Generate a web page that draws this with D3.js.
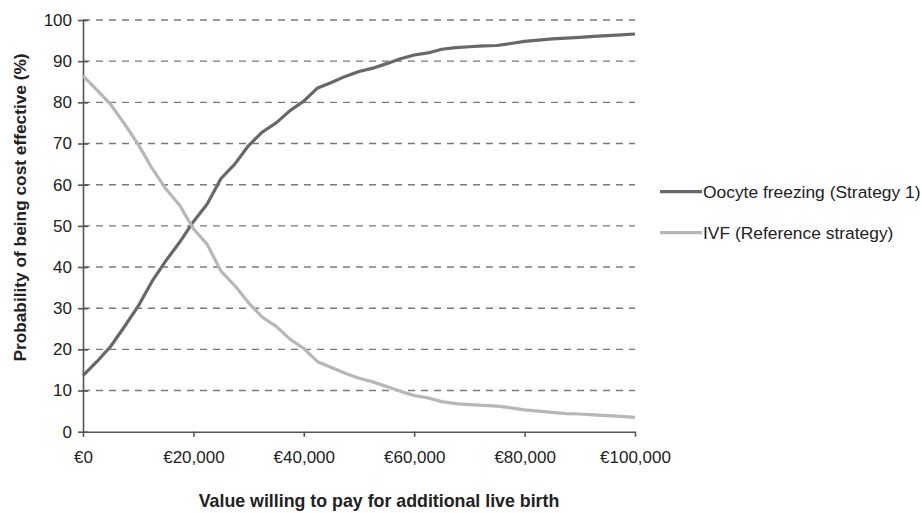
<!DOCTYPE html>
<html>
<head>
<meta charset="utf-8">
<script src="https://cdn.jsdelivr.net/npm/d3@7/dist/d3.min.js"></script>
<style>
html,body{margin:0;padding:0;background:#fff;}
svg text{font-family:"Liberation Sans",Arial,Helvetica,sans-serif;}
</style>
</head>
<body>
<svg id="chart" width="922" height="513"></svg>
<script>
const wtp = [0,2500,5000,7500,10000,12500,15000,17500,20000,22500,25000,27500,30000,32500,35000,37500,40000,42500,45000,47500,50000,52500,55000,57500,60000,62500,65000,67500,70000,72500,75000,77500,80000,82500,85000,87500,90000,92500,95000,97500,100000];
const oocyte = [13.6,17,20.7,25.5,30.5,36.5,41.5,46,51,55.3,61.5,65,69.5,72.8,75,78,80.3,83.5,84.8,86.3,87.5,88.3,89.4,90.6,91.5,92,92.9,93.3,93.5,93.7,93.8,94.3,94.8,95.1,95.4,95.6,95.8,96,96.2,96.4,96.6];
const ivf = [86.4,83,79.5,74.8,69.8,64,59,55,49.3,45.5,39,35.5,31.3,27.8,25.6,22.5,20.2,17,15.6,14.2,13,12.1,11,9.8,8.8,8.2,7.3,6.8,6.6,6.4,6.2,5.8,5.3,5,4.7,4.4,4.3,4.1,3.9,3.7,3.5];
const xTicks = [0,20000,40000,60000,80000,100000];
const yTicks = [0,10,20,30,40,50,60,70,80,90,100];
const seriesNames = ["Oocyte freezing (Strategy 1)","IVF (Reference strategy)"];
const seriesColors = ["#686868","#b7b7b7"];
const xTitle = "Value willing to pay for additional live birth";
const yTitle = "Probability of being cost effective (%)";

const svg = d3.select("#chart");
const L = 83, R = 635, T = 20, B = 431.7;
const x = d3.scaleLinear().domain([0,100000]).range([L,R]);
const y = d3.scaleLinear().domain([0,100]).range([B,T]);

// gridlines
svg.append("g").selectAll("line").data(yTicks.filter(d=>d>0)).join("line")
  .attr("x1",L).attr("x2",R).attr("y1",d=>y(d)).attr("y2",d=>y(d))
  .attr("stroke","#7a7a7a").attr("stroke-width",1.4).attr("stroke-dasharray","7,6");

// y axis
const fmtE = d => "€" + d3.format(",")(d);
const yAxis = svg.append("g").attr("transform",`translate(${L},0)`)
  .call(d3.axisLeft(y).tickValues(yTicks).tickSizeInner(5).tickSizeOuter(0).tickPadding(6));
yAxis.selectAll(".tick line").attr("x2",5).attr("x1",-5);
// x axis
const xAxis = svg.append("g").attr("transform",`translate(0,${B})`)
  .call(d3.axisBottom(x).tickValues(xTicks).tickFormat(fmtE).tickSizeInner(5).tickSizeOuter(0).tickPadding(14));
[yAxis,xAxis].forEach(a=>{
  a.select(".domain").attr("stroke","#555").attr("stroke-width",1.6);
  a.selectAll(".tick line").attr("stroke","#555").attr("stroke-width",1.6);
  a.selectAll(".tick text").attr("fill","#222").style("font-size","17px").style("font-family","'Liberation Sans',Arial,sans-serif");
});

// lines
const line = d3.line().x((d,i)=>x(wtp[i])).y(d=>y(d));
[oocyte,ivf].forEach((s,k)=>{
  svg.append("path").datum(s).attr("d",line).attr("fill","none")
    .attr("stroke",seriesColors[k]).attr("stroke-width",3.2).attr("stroke-linejoin","round");
});

// legend
const lg = svg.append("g");
seriesNames.forEach((n,k)=>{
  const yy = 191.7 + k*41;
  lg.append("line").attr("x1",660).attr("x2",702).attr("y1",yy).attr("y2",yy)
    .attr("stroke",seriesColors[k]).attr("stroke-width",3.2);
  lg.append("text").attr("x",703).attr("y",yy).attr("dy","0.35em")
    .style("font-size","17.4px").attr("fill","#222").text(n);
});

// titles
svg.append("text").attr("x",379).attr("y",507).attr("text-anchor","middle")
  .style("font-size","17.8px").style("font-weight","bold").attr("fill","#222").text(xTitle);
svg.append("text").attr("transform",`translate(25.5,207.5) rotate(-90)`).attr("text-anchor","middle")
  .style("font-size","17.3px").style("font-weight","bold").attr("fill","#222").text(yTitle);
</script>
</body>
</html>
